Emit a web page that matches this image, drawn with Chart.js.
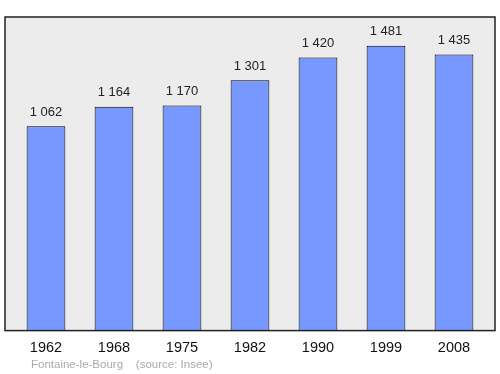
<!DOCTYPE html>
<html>
<head>
<meta charset="utf-8">
<script src="https://cdn.jsdelivr.net/npm/chart.js@4/dist/chart.umd.min.js"></script>
<style>
  html, body { margin: 0; padding: 0; background: #fff; }
  #wrap { width: 500px; height: 374px; }
</style>
</head>
<body>
<div id="wrap"><canvas id="pop"></canvas></div>
<script>
// données démographiques
var years = ['1962', '1968', '1975', '1982', '1990', '1999', '2008'];
var population = [1062, 1164, 1170, 1301, 1420, 1481, 1435];
var footerText = 'Fontaine-le-Bourg    (source: Insee)';

function formatNb(v) {
    return String(v).replace(/\B(?=(\d{3})+(?!\d))/g, ' ');
}

// fond gris + cadre du graphique
var boxPlugin = {
    id: 'box',
    beforeDatasetsDraw: function(chart) {
        var a = chart.chartArea, ctx = chart.ctx;
        ctx.save();
        ctx.fillStyle = '#ececec';
        ctx.fillRect(a.left - 7, a.top, a.right - a.left + 14, a.bottom - a.top);
        ctx.restore();
    },
    afterDatasetsDraw: function(chart) {
        var a = chart.chartArea, ctx = chart.ctx;
        ctx.save();
        ctx.strokeStyle = '#222';
        ctx.lineWidth = 1.5;
        ctx.strokeRect(a.left - 7, a.top, a.right - a.left + 14, a.bottom - a.top);
        // valeurs au-dessus des barres
        ctx.fillStyle = '#222';
        ctx.font = '13px "Liberation Sans", Arial, sans-serif';
        ctx.textAlign = 'center';
        ctx.textBaseline = 'middle';
        chart.getDatasetMeta(0).data.forEach(function(bar, i) {
            ctx.fillText(formatNb(population[i]), bar.x, bar.y - 14);
        });
        // source
        ctx.fillStyle = '#aaaaaa';
        ctx.font = '11.5px "Liberation Sans", Arial, sans-serif';
        ctx.textAlign = 'left';
        ctx.fillText(footerText, 31, 365);
        ctx.restore();
    }
};

var popChart = new Chart(document.getElementById('pop'), {
    type: 'bar',
    data: {
        labels: years,
        datasets: [{
            data: population,
            backgroundColor: '#7799ff',
            borderColor: '#000',
            borderWidth: 1,
            borderSkipped: 'bottom',
            barPercentage: 0.57,
            categoryPercentage: 1
        }]
    },
    options: {
        responsive: true,
        maintainAspectRatio: false,
        animation: false,
        layout: {
            padding: { top: 17, left: 12, right: 12, bottom: 16 }
        },
        scales: {
            x: {
                grid: { display: false },
                border: { display: false },
                ticks: {
                    color: '#111',
                    padding: 1,
                    font: { size: 14.5, family: '"Liberation Sans", Arial, sans-serif' }
                }
            },
            y: {
                display: false,
                min: 0,
                max: 1630
            }
        },
        plugins: {
            legend: { display: false },
            tooltip: { enabled: false }
        }
    },
    plugins: [boxPlugin]
});
</script>
</body>
</html>
